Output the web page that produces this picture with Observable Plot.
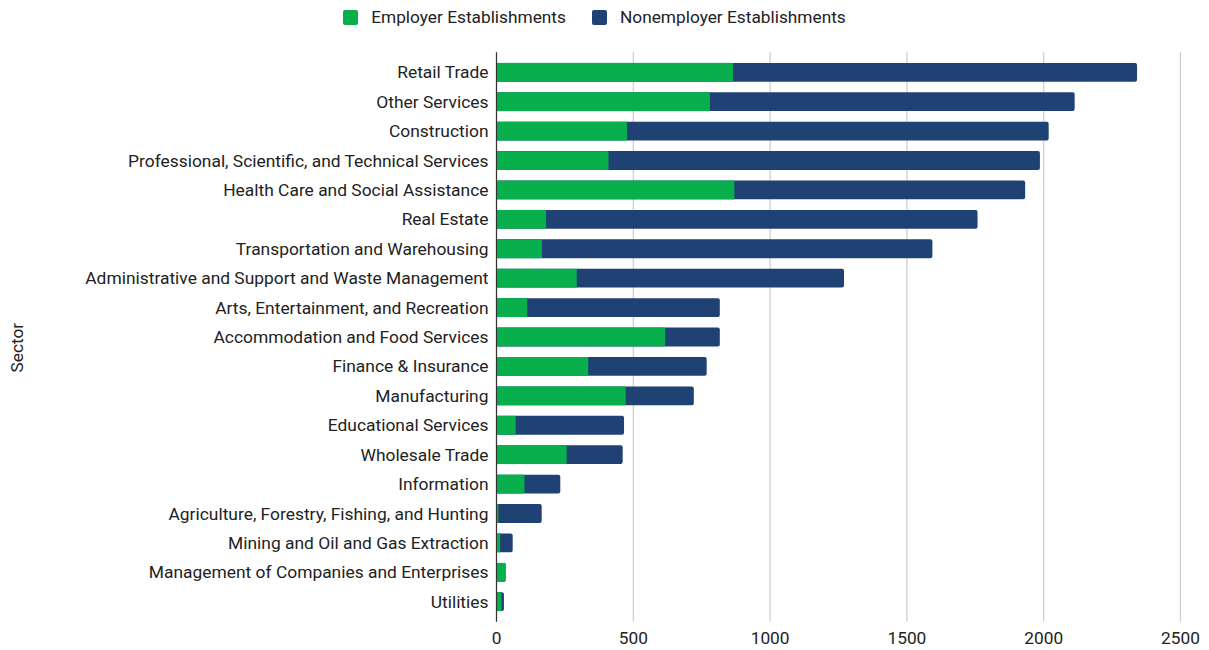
<!DOCTYPE html>
<html>
<head>
<meta charset="utf-8">
<script src="https://cdn.jsdelivr.net/npm/d3@7"></script>
<script src="https://cdn.jsdelivr.net/npm/@observablehq/plot@0.6"></script>
<style>
  html, body { margin: 0; padding: 0; background: #fff; }
  body { width: 1209px; height: 650px; overflow: hidden; font-family: Roboto, "Noto Sans", sans-serif; }
  #legend { height: 34px; display: flex; justify-content: center; align-items: center; padding-right: 20px; box-sizing: border-box; font-size: 17.3px; color: #222; }
  .item { display: flex; align-items: center; margin: 0 13px; }
  .sw { width: 15px; height: 15px; border-radius: 2px; margin-right: 13px; }
  svg { display: block; }
</style>
</head>
<body>
<div id="legend"></div>
<div id="chart"></div>
<script>
const sectors = [
  "Retail Trade",
  "Other Services",
  "Construction",
  "Professional, Scientific, and Technical Services",
  "Health Care and Social Assistance",
  "Real Estate",
  "Transportation and Warehousing",
  "Administrative and Support and Waste Management",
  "Arts, Entertainment, and Recreation",
  "Accommodation and Food Services",
  "Finance & Insurance",
  "Manufacturing",
  "Educational Services",
  "Wholesale Trade",
  "Information",
  "Agriculture, Forestry, Fishing, and Hunting",
  "Mining and Oil and Gas Extraction",
  "Management of Companies and Enterprises",
  "Utilities"
];
const employer =    [866, 782, 479, 411, 871, 183, 168, 295, 114, 618, 337, 474,  72, 258, 104,   9, 15, 35, 20];
const nonemployer = [1477, 1333, 1541, 1577, 1063, 1577, 1427, 977, 704, 200, 433, 249, 396, 205, 131, 158, 46, 0, 9];
const seriesNames = ["Employer Establishments", "Nonemployer Establishments"];
const seriesColors = ["#07b04c", "#1f4174"];
const xTicks = [0, 500, 1000, 1500, 2000, 2500];

const data = sectors.map((s, i) => ({
  sector: s,
  employer: employer[i],
  total: employer[i] + nonemployer[i]
}));

// legend
const legend = document.getElementById("legend");
seriesNames.forEach((name, i) => {
  const it = document.createElement("div");
  it.className = "item";
  const sw = document.createElement("div");
  sw.className = "sw";
  sw.style.background = seriesColors[i];
  const t = document.createElement("span");
  t.textContent = name;
  it.appendChild(sw);
  it.appendChild(t);
  legend.appendChild(it);
});

const chart = Plot.plot({
  width: 1209,
  height: 616,
  marginTop: 18.3,
  marginBottom: 28.3,
  marginLeft: 496,
  marginRight: 29,
  style: { fontFamily: "Roboto, 'Noto Sans', sans-serif", color: "#222", background: "#fff" },
  x: { domain: [0, 2500], ticks: xTicks },
  y: { domain: sectors, padding: 0.36, round: false },
  marks: [
    Plot.gridX(xTicks, { stroke: "#cccccc", strokeOpacity: 1, strokeWidth: 1.2 }),
    Plot.barX(data, { y: "sector", x1: 0, x2: "total", fill: seriesColors[1], rx: 2 }),
    Plot.barX(data, { y: "sector", x1: 0, x2: "employer", fill: seriesColors[0] }),
    Plot.ruleX([0], { stroke: "#333", strokeWidth: 1.2 }),
    Plot.axisX({ ticks: xTicks, tickSize: 0, tickPadding: 10, fontSize: 17.3, label: null, tickFormat: d => String(d) }),
    Plot.axisY({ tickSize: 0, tickPadding: 8, fontSize: 17.4, label: null }),
    Plot.text(["Sector"], { text: d => d, frameAnchor: "left", rotate: -90, dx: -479, dy: 35, fontSize: 17.3, fill: "#222" })
  ]
});
document.getElementById("chart").appendChild(chart);
</script>
</body>
</html>
